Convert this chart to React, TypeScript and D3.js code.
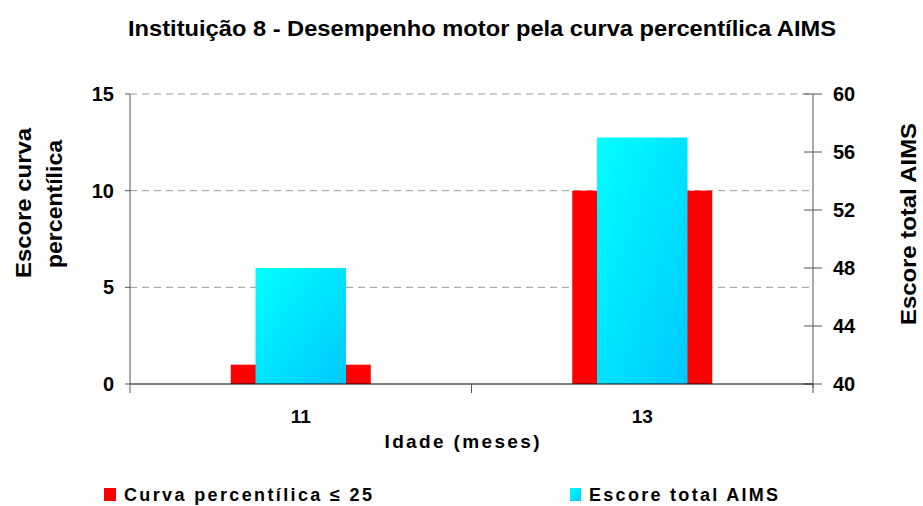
import React from "react";
import * as d3 from "d3";

const categories = ["11", "13"];
const percentilValues = [1, 10];
const aimsValues = [48, 57];
const leftTicks = [0, 5, 10, 15];
const rightTicks = [40, 44, 48, 52, 56, 60];
const seriesNames = ["Curva percentílica ≤ 25", "Escore total AIMS"];

const W = 923;
const H = 506;
const M = { left: 130, right: 813, top: 94, bottom: 384 };

export default function App() {
  const x = d3.scaleBand<string>().domain(categories).range([M.left, M.right]).padding(0);
  const yL = d3.scaleLinear().domain([0, 15]).range([M.bottom, M.top]);
  const yR = d3.scaleLinear().domain([40, 60]).range([M.bottom, M.top]);
  const bw = x.bandwidth();
  const redW = bw * 0.41;
  const cyanW = bw * 0.265;
  const font = "'Liberation Sans', Arial, sans-serif";

  return (
    <svg width={W} height={H} style={{ position: "absolute", left: 0, top: 0 }} fontFamily={font}>
      <defs>
        <linearGradient id="cy" x1="0" y1="0" x2="1" y2="1">
          <stop offset="0" stopColor="#00FFFF" />
          <stop offset="1" stopColor="#00C8FF" />
        </linearGradient>
      </defs>
      <rect x={0} y={0} width={W} height={H} fill="#fff" />
      <text x={482} y={36} textAnchor="middle" fontSize={22} fontWeight="bold" textLength={708} lengthAdjust="spacingAndGlyphs">
        Instituição 8 - Desempenho motor pela curva percentílica AIMS
      </text>

      {/* gridlines */}
      {leftTicks.filter((t) => t > 0).map((t) => (
        <line key={t} x1={M.left} x2={M.right} y1={yL(t)} y2={yL(t)} stroke="#999" strokeWidth={1} strokeDasharray="7,5" />
      ))}

      {/* bars */}
      {categories.map((c, i) => {
        const cx = (x(c) as number) + bw / 2;
        return (
          <g key={c}>
            <rect x={cx - redW / 2} y={yL(percentilValues[i])} width={redW} height={M.bottom - yL(percentilValues[i])} fill="#FF0000" />
            <rect x={cx - cyanW / 2} y={yR(aimsValues[i])} width={cyanW} height={M.bottom - yR(aimsValues[i])} fill="url(#cy)" />
          </g>
        );
      })}

      {/* left axis */}
      <line x1={M.left} x2={M.left} y1={M.top} y2={M.bottom} stroke="#555" strokeWidth={1} />
      {leftTicks.map((t) => (
        <g key={t}>
          <line x1={M.left - 5} x2={M.left} y1={yL(t)} y2={yL(t)} stroke="#555" />
          <text x={114} y={yL(t) + 7} textAnchor="end" fontSize={20} fontWeight="bold">{t}</text>
        </g>
      ))}

      {/* right axis */}
      <line x1={M.right} x2={M.right} y1={M.top} y2={M.bottom + 4} stroke="#555" strokeWidth={1} />
      {rightTicks.map((t) => (
        <g key={t}>
          <line x1={M.right - 9} x2={M.right + 9} y1={yR(t)} y2={yR(t)} stroke="#555" />
          <text x={833} y={yR(t) + 7} textAnchor="start" fontSize={20} fontWeight="bold">{t}</text>
        </g>
      ))}

      {/* bottom axis */}
      <line x1={M.left} x2={M.right} y1={M.bottom} y2={M.bottom} stroke="#000" strokeWidth={1.2} />
      {[M.left, (x(categories[1]) as number), M.right].map((p, i) => (
        <line key={i} x1={p} x2={p} y1={M.bottom} y2={M.bottom + 9} stroke="#555" />
      ))}
      {categories.map((c) => (
        <text key={c} x={(x(c) as number) + bw / 2} y={423} textAnchor="middle" fontSize={19} fontWeight="bold">{c}</text>
      ))}
      <text x={462} y={448} textAnchor="middle" fontSize={19} fontWeight="bold" textLength={155} lengthAdjust="spacing">Idade (meses)</text>

      {/* axis titles */}
      <text transform="translate(31,203) rotate(-90)" textAnchor="middle" fontSize={22} fontWeight="bold" textLength={150} lengthAdjust="spacingAndGlyphs">Escore curva</text>
      <text transform="translate(62,204) rotate(-90)" textAnchor="middle" fontSize={22} fontWeight="bold" textLength={128} lengthAdjust="spacingAndGlyphs">percentílica</text>
      <text transform="translate(916,224) rotate(-90)" textAnchor="middle" fontSize={22} fontWeight="bold" textLength={202} lengthAdjust="spacingAndGlyphs">Escore total AIMS</text>

      {/* legend */}
      <rect x={104} y={488} width={12} height={13} fill="#FF0000" />
      <text x={124} y={501} fontSize={18} fontWeight="bold" textLength={248} lengthAdjust="spacing">{seriesNames[0]}</text>
      <rect x={570} y={488} width={11} height={13} fill="url(#cy)" />
      <text x={589} y={501} fontSize={18} fontWeight="bold" textLength={189} lengthAdjust="spacing">{seriesNames[1]}</text>
    </svg>
  );
}
